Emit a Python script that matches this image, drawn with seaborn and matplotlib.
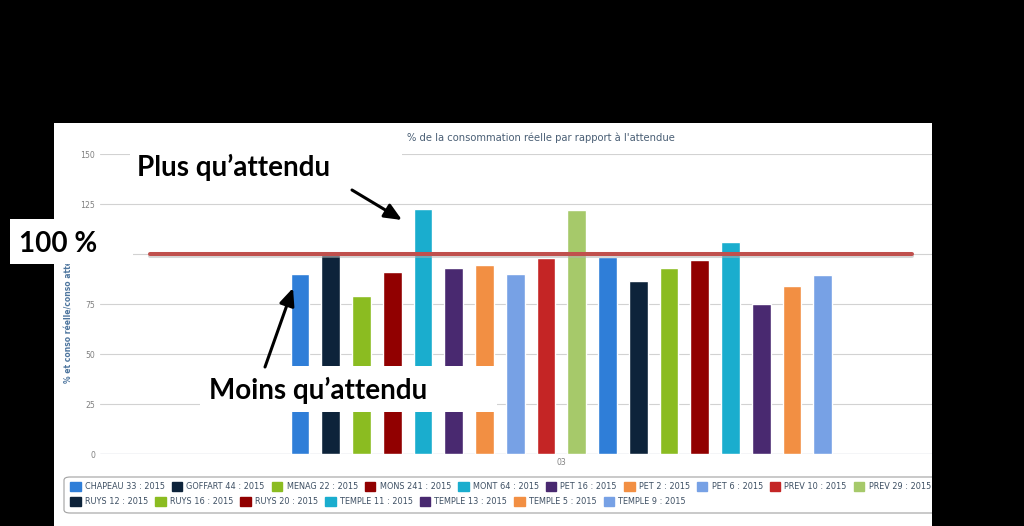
import matplotlib
matplotlib.use("Agg")
import matplotlib.pyplot as plt
import seaborn as sns
import pandas as pd
from matplotlib.patches import Rectangle, Patch, FancyBboxPatch, FancyArrowPatch

# ---------------- data ----------------
category = "03"
series = [
    "CHAPEAU 33 : 2015", "GOFFART 44 : 2015", "MENAG 22 : 2015", "MONS 241 : 2015",
    "MONT 64 : 2015", "PET 16 : 2015", "PET 2 : 2015", "PET 6 : 2015",
    "PREV 10 : 2015", "PREV 29 : 2015", "(masqué)",
    "RUYS 12 : 2015", "RUYS 16 : 2015", "RUYS 20 : 2015", "TEMPLE 11 : 2015",
    "TEMPLE 13 : 2015", "TEMPLE 5 : 2015", "TEMPLE 9 : 2015",
]
values = [90, 99.3, 79, 91, 122.6, 93, 94.6, 90, 98, 122, 98.6,
          86.5, 93, 97, 106, 75, 84, 89.4]
colors = ["#2f7ed8", "#0d233a", "#8bbc21", "#910000", "#1aadce", "#492970",
          "#f28f43", "#77a1e5", "#c42525", "#a6c96a"]
yticks = [0, 25, 50, 75, 100, 125, 150]
reference_level = 100
title = "% de la consommation réelle par rapport à l'attendue"
ylabel = "% et conso réelle/conso attendue"

palette = [colors[i % len(colors)] for i in range(len(series))]
df = pd.DataFrame({"cat": [category] * len(series), "serie": series, "val": values})

W, H = 1024, 526
def fx(px):
    return px / W
def fy(py):
    return 1 - py / H

sns.set_theme(style="white")
plt.rcParams["font.family"] = ["DejaVu Sans"]

fig = plt.figure(figsize=(W / 100, H / 100), dpi=100, facecolor="white")
ax = fig.add_axes([fx(100), fy(454), 922.8 / W, 300 / H])
ax.set_facecolor("white")

sns.barplot(data=df, x="cat", y="val", hue="serie", hue_order=series,
            palette=palette, width=0.6, gap=0.39, saturation=1,
            legend=False, ax=ax, zorder=3)

ax.set_xlim(-0.5, 0.5)
ax.set_ylim(0, 150)
ax.set_yticks(yticks)
ax.yaxis.grid(True, color="#d2d2d2", linewidth=0.8)
ax.set_axisbelow(True)
for s in ax.spines.values():
    s.set_visible(False)
ax.axhline(0, color="#c0c8d8", linewidth=0.9, zorder=2)
ax.tick_params(axis="y", length=0, pad=3.6, labelsize=5.6, labelcolor="#808080")
ax.tick_params(axis="x", length=0, pad=3.0, labelsize=5.6, labelcolor="#808080")
ax.set_xlabel("")
ax.set_ylabel("")

# reference line at 100 %
x0f, x1f = (150 - 100) / 922.8, (912 - 100) / 922.8
ax.axhline(reference_level - 0.9, xmin=x0f, xmax=x1f,
           color="#b0b0b0", alpha=0.5, linewidth=2.9, zorder=5)
ax.axhline(reference_level, xmin=x0f, xmax=x1f,
           color="#c0504d", linewidth=2.9, zorder=6)

fig.text(fx(541), fy(138), title, ha="center", va="center", fontsize=7.2,
         color="#4a5f75")
fig.text(fx(69), fy(311), ylabel, rotation=90, ha="center", va="center",
         fontsize=5.5, fontweight="bold", color="#4d759e")

# legend frame
fig.patches.append(FancyBboxPatch((fx(64), fy(513)), fx(1000) - fx(64), fy(477) - fy(513),
                                  boxstyle="round,pad=0,rounding_size=0.006",
                                  transform=fig.transFigure, facecolor="white",
                                  edgecolor="#a0a0a0", linewidth=0.8, zorder=4))

legend_kw = dict(loc="center left", frameon=False, fontsize=5.9, handlelength=1.3,
                 handleheight=1.3, handletextpad=0.5, columnspacing=0.85,
                 borderpad=0, borderaxespad=0, labelcolor="#3d4f63")
row1 = [i for i in range(10)]
row2 = [i for i in range(11, len(series))]
for rows, ypx in ((row1, 486.5), (row2, 501.5)):
    handles = [Patch(facecolor=palette[i], edgecolor=palette[i]) for i in rows]
    labels = [series[i] for i in rows]
    leg = fig.legend(handles, labels, bbox_to_anchor=(fx(70), fy(ypx)),
                     ncol=len(rows), **legend_kw)
    leg.set_zorder(5)

# black margins around the white screenshot
for (x0, y0, x1, y1) in ((0, 0, 54, 526), (0, 0, 1024, 123), (932, 0, 1024, 526)):
    fig.patches.append(Rectangle((fx(x0), fy(y1)), fx(x1) - fx(x0), fy(y0) - fy(y1),
                                 transform=fig.transFigure, facecolor="black",
                                 edgecolor="none", zorder=10))

# white annotation boxes
for (x0, y0, x1, y1) in ((10, 219, 133, 264), (130, 143, 402, 192), (200, 366, 497, 412)):
    fig.patches.append(Rectangle((fx(x0), fy(y1)), fx(x1) - fx(x0), fy(y0) - fy(y1),
                                 transform=fig.transFigure, facecolor="white",
                                 edgecolor="none", zorder=12))

big = dict(fontsize=20, fontweight="bold", color="black", family=["Lato", "DejaVu Sans"],
           zorder=14)
fig.text(fx(19), fy(252), "100 %", ha="left", va="baseline", **big)
fig.text(fx(137), fy(176), "Plus qu’attendu", ha="left", va="baseline", **big)
fig.text(fx(209), fy(399), "Moins qu’attendu", ha="left", va="baseline", **big)

for (a, b) in (((352, 190), (402, 220)), ((265, 367), (293, 288))):
    fig.patches.append(FancyArrowPatch((fx(a[0]), fy(a[1])), (fx(b[0]), fy(b[1])),
                                       transform=fig.transFigure,
                                       arrowstyle="-|>,head_length=0.8,head_width=0.35",
                                       mutation_scale=13, linewidth=2.2,
                                       color="black", shrinkA=0, shrinkB=0, zorder=14))

fig.savefig("out.png", dpi=100, facecolor="white")
